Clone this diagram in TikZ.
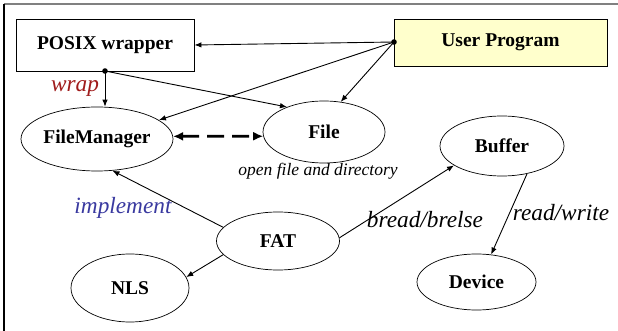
\documentclass[tikz,border=0pt]{standalone}
\usepackage{fontspec}
\setmainfont{Liberation Serif}
\usetikzlibrary{shapes.geometric,arrows.meta}
\definecolor{wrapred}{RGB}{160,28,28}
\definecolor{implblue}{RGB}{58,58,160}
\definecolor{userfill}{RGB}{255,255,204}
\tikzset{
  box/.style={draw, line width=0.9pt, inner sep=0pt, font=\fontsize{19.5}{22}\selectfont\bfseries},
  ell/.style={draw, ellipse, line width=0.7pt, inner sep=0pt, font=\fontsize{19.5}{22}\selectfont\bfseries},
  lbl/.style={font=\fontsize{23.3}{26}\selectfont\itshape},
  arr/.style={line width=0.9pt, -{Latex[length=7pt,width=5.5pt]}},
}
\begin{document}
\begin{tikzpicture}[x=1pt,y=-1pt]
\useasboundingbox (0,0) rectangle (618,331);
\draw[gray, line width=2pt] (4,4) -- (618,4);
\draw[line width=1.2pt] (4,4) -- (4,331);
\node[box, minimum width=178pt, minimum height=52pt] (posix) at (105,45) {POSIX wrapper};
\node[box, fill=userfill, minimum width=213pt, minimum height=47pt] (user) at (500.5,42.5) {User Program};
\node[ell, minimum width=152pt, minimum height=64pt] (fm) at (97,139) {FileManager};
\node[ell, minimum width=122pt, minimum height=62pt] (file) at (324,132) {File};
\node[ell, minimum width=124pt, minimum height=60pt] (buffer) at (502,146) {Buffer};
\node[ell, minimum width=123pt, minimum height=58pt] (fat) at (278,241) {FAT};
\node[ell, minimum width=118pt, minimum height=68pt] (nls) at (130,288) {NLS};
\node[ell, minimum width=119pt, minimum height=56pt] (dev) at (476.5,282) {Device};
\coordinate (udot) at (394,42);
\coordinate (pdot) at (105,71);
\fill (udot) circle (2.8pt);
\fill (pdot) circle (2.8pt);
% user program calls
\draw[arr] (udot) -- (posix.east);
\draw[arr] (udot) -- (fm.17);
\draw[arr] (udot) -- (file.61);
% wrapper
\draw[arr] (pdot) -- (fm.north -| pdot);
\draw[arr] (pdot) -- (file.146);
\draw[line width=2.8pt, dash pattern=on 17pt off 8pt, {Latex[length=10pt,width=9pt]}-{Latex[length=10pt,width=9pt]}] (fm.2) -- (file.184);
% fat
\draw[arr] (fat.166) -- (fm.-64);
\draw[arr] (fat.194) -- (nls.11);
\draw[arr] (fat.3) -- (buffer.202);
\draw[arr] (buffer.-48) -- (dev.62);
% labels
\node[lbl, text=wrapred] (wraplbl) at (75,88) {wrap};
\node[lbl, text=implblue] (impllbl) at (123,208) {implement};
\node[lbl] (brlbl) at (425,220) {bread/brelse};
\node[lbl] (rwlbl) at (561,213) {read/write};
\node[font=\fontsize{17.5}{20}\selectfont\itshape] (openlbl) at (318,171) {open file and directory};
\end{tikzpicture}
\end{document}
